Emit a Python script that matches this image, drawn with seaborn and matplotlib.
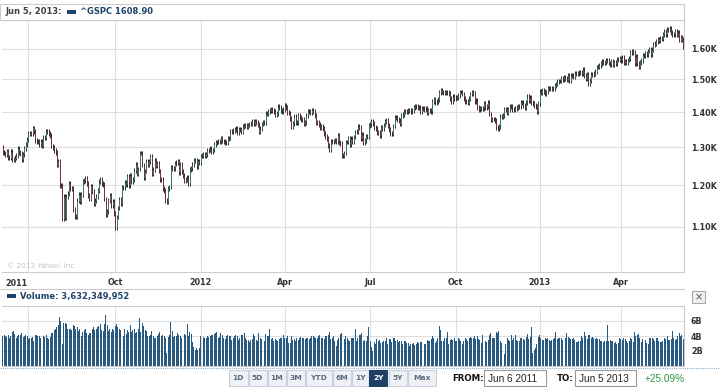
import numpy as np
import pandas as pd
import seaborn as sns
import matplotlib
matplotlib.use("Agg")
import matplotlib.pyplot as plt
from matplotlib.patches import Rectangle
from matplotlib.ticker import NullLocator

# ^GSPC daily closes, one list per month
close_jun11 = [1286, 1285, 1280, 1290, 1271, 1272, 1288, 1266, 1268, 1272, 1278, 1296, 1287, 1283, 1268, 1281, 1297, 1308, 1321]
close_jul11 = [1340, 1337, 1339, 1353, 1344, 1320, 1317, 1318, 1309, 1316, 1305, 1327, 1326, 1344, 1345, 1338, 1332, 1304, 1300, 1292]
close_aug11 = [1287, 1254, 1261, 1200, 1199, 1119, 1172, 1121, 1172, 1179, 1204, 1192, 1193, 1140, 1124, 1123, 1162, 1177, 1159, 1177, 1210, 1213, 1219]
close_sep11 = [1204, 1174, 1166, 1198, 1185, 1154, 1162, 1172, 1188, 1209, 1216, 1204, 1202, 1166, 1129, 1136, 1163, 1175, 1151, 1160, 1131]
close_oct11 = [1099, 1123, 1144, 1165, 1155, 1195, 1195, 1207, 1203, 1224, 1200, 1225, 1210, 1215, 1238, 1254, 1229, 1242, 1285, 1285, 1253]
close_nov11 = [1219, 1237, 1261, 1253, 1262, 1276, 1229, 1240, 1264, 1251, 1258, 1237, 1216, 1216, 1193, 1188, 1162, 1159, 1193, 1196, 1247]
close_dec11 = [1244, 1244, 1257, 1259, 1262, 1234, 1255, 1236, 1225, 1212, 1216, 1220, 1205, 1241, 1244, 1254, 1265, 1265, 1249, 1263, 1258]
close_jan12 = [1277, 1278, 1281, 1278, 1281, 1292, 1293, 1296, 1289, 1293, 1308, 1314, 1315, 1316, 1315, 1326, 1318, 1316, 1313, 1312]
close_feb12 = [1324, 1326, 1345, 1344, 1347, 1350, 1352, 1342, 1351, 1351, 1344, 1358, 1361, 1362, 1358, 1363, 1366, 1367, 1372, 1366]
close_mar12 = [1374, 1370, 1364, 1343, 1352, 1366, 1371, 1371, 1396, 1395, 1403, 1404, 1409, 1405, 1403, 1392, 1397, 1416, 1413, 1405, 1403, 1408]
close_apr12 = [1419, 1414, 1399, 1398, 1382, 1358, 1368, 1387, 1370, 1370, 1391, 1385, 1377, 1379, 1366, 1371, 1391, 1403, 1403, 1398]
close_may12 = [1406, 1402, 1391, 1369, 1370, 1364, 1355, 1358, 1353, 1338, 1330, 1325, 1305, 1295, 1316, 1316, 1318, 1320, 1317, 1333, 1313, 1310]
close_jun12 = [1278, 1278, 1285, 1315, 1315, 1325, 1309, 1324, 1315, 1329, 1343, 1345, 1358, 1355, 1325, 1335, 1314, 1320, 1331, 1329, 1362]
close_jul12 = [1365, 1374, 1368, 1355, 1352, 1341, 1342, 1334, 1357, 1353, 1363, 1372, 1376, 1362, 1350, 1338, 1337, 1360, 1386, 1385, 1379]
close_aug12 = [1375, 1366, 1391, 1394, 1401, 1403, 1403, 1406, 1404, 1403, 1405, 1415, 1418, 1418, 1413, 1413, 1402, 1411, 1410, 1409, 1410, 1399, 1406]
close_sep12 = [1404, 1403, 1432, 1438, 1429, 1433, 1437, 1460, 1466, 1461, 1459, 1461, 1460, 1460, 1456, 1441, 1433, 1447, 1441]
close_oct12 = [1444, 1445, 1451, 1461, 1461, 1455, 1441, 1432, 1433, 1428, 1440, 1455, 1460, 1457, 1433, 1434, 1413, 1409, 1412, 1411, 1412]
close_nov12 = [1427, 1414, 1417, 1428, 1395, 1378, 1380, 1380, 1375, 1355, 1353, 1359, 1387, 1387, 1391, 1409, 1407, 1399, 1409, 1416, 1416]
close_dec12 = [1409, 1407, 1410, 1413, 1418, 1418, 1428, 1428, 1419, 1413, 1430, 1446, 1436, 1443, 1430, 1427, 1419, 1418, 1402, 1426]
close_jan13 = [1462, 1459, 1466, 1462, 1457, 1461, 1472, 1472, 1471, 1472, 1472, 1481, 1486, 1493, 1495, 1495, 1503, 1500, 1507, 1502, 1498]
close_feb13 = [1513, 1495, 1512, 1512, 1509, 1518, 1518, 1520, 1521, 1522, 1520, 1531, 1512, 1502, 1516, 1488, 1496, 1515, 1515]
close_mar13 = [1518, 1525, 1540, 1541, 1545, 1552, 1557, 1553, 1555, 1563, 1561, 1553, 1549, 1558, 1546, 1556, 1552, 1564, 1563, 1569]
close_apr13 = [1562, 1570, 1553, 1559, 1553, 1563, 1568, 1588, 1593, 1588, 1552, 1574, 1552, 1541, 1555, 1562, 1578, 1578, 1585, 1582, 1593, 1598]
close_may13 = [1582, 1597, 1614, 1617, 1625, 1633, 1627, 1634, 1633, 1650, 1659, 1650, 1667, 1666, 1669, 1655, 1650, 1650, 1661, 1648, 1655, 1631]
close_jun13 = [1640, 1631, 1609]
first_open = 1300

# daily volume, tenths of a billion shares
vol_jun11 = [40, 41, 40, 39, 42, 38, 40, 45, 47, 43, 38, 40, 41, 42, 44, 39, 40, 41, 40]
vol_jul11 = [36, 37, 38, 39, 34, 42, 41, 40, 40, 38, 37, 40, 39, 41, 38, 36, 39, 44, 44, 48]
vol_aug11 = [50, 52, 55, 65, 60, 30, 58, 57, 56, 50, 49, 50, 48, 55, 54, 50, 52, 47, 50, 40, 46, 48, 50]
vol_sep11 = [44, 42, 44, 44, 50, 52, 48, 50, 52, 54, 56, 48, 47, 56, 68, 55, 47, 50, 46, 50, 48]
vol_oct11 = [54, 56, 52, 50, 48, 43, 40, 49, 43, 48, 45, 55, 46, 48, 50, 44, 46, 49, 64, 45, 58]
vol_nov11 = [54, 48, 47, 40, 40, 42, 47, 40, 38, 38, 40, 43, 46, 40, 42, 40, 38, 18, 39, 42, 59]
vol_dec11 = [47, 39, 40, 40, 44, 42, 40, 38, 44, 43, 42, 56, 40, 45, 43, 32, 25, 22, 24, 22, 24]
vol_jan12 = [40, 38, 39, 37, 38, 40, 39, 40, 42, 41, 43, 44, 45, 38, 39, 44, 42, 38, 36, 40]
vol_feb12 = [41, 40, 40, 35, 38, 40, 42, 40, 35, 38, 41, 41, 44, 37, 35, 35, 32, 35, 36, 43]
vol_mar12 = [40, 35, 34, 44, 38, 36, 34, 34, 43, 40, 40, 50, 36, 37, 34, 36, 35, 34, 36, 38, 38, 42]
vol_apr12 = [37, 37, 40, 31, 31, 40, 35, 36, 34, 38, 35, 37, 39, 37, 38, 36, 38, 37, 36, 37]
vol_may12 = [40, 40, 39, 38, 37, 40, 41, 38, 37, 36, 40, 40, 42, 45, 36, 37, 40, 34, 27, 35, 37, 43]
vol_jun12 = [44, 40, 36, 40, 38, 35, 34, 38, 38, 38, 50, 34, 37, 42, 42, 44, 34, 35, 34, 40, 52]
vol_jul12 = [34, 26, 20, 32, 30, 36, 34, 35, 31, 32, 34, 34, 37, 30, 36, 36, 32, 38, 38, 33, 35]
vol_aug12 = [32, 33, 34, 30, 33, 33, 31, 31, 27, 30, 30, 31, 28, 30, 32, 31, 32, 32, 27, 29, 30, 35, 33]
vol_sep12 = [34, 36, 40, 38, 31, 34, 38, 53, 48, 33, 34, 38, 38, 45, 30, 35, 36, 35, 37]
vol_oct12 = [34, 33, 37, 36, 33, 30, 34, 37, 36, 34, 38, 39, 37, 38, 40, 36, 40, 36, 35, 31, 41]
vol_nov12 = [37, 34, 32, 35, 41, 44, 38, 37, 37, 45, 44, 47, 34, 31, 28, 16, 29, 37, 35, 34, 42]
vol_dec12 = [35, 37, 42, 35, 34, 33, 38, 38, 36, 35, 39, 43, 36, 39, 52, 18, 21, 24, 30, 39]
vol_jan13 = [42, 38, 35, 35, 38, 36, 37, 35, 34, 35, 36, 38, 45, 36, 38, 37, 38, 35, 36, 38, 44]
vol_feb13 = [39, 38, 36, 36, 37, 35, 32, 32, 34, 33, 40, 38, 45, 40, 36, 42, 41, 38, 39]
vol_mar13 = [37, 36, 38, 36, 36, 33, 33, 32, 33, 33, 55, 34, 35, 34, 33, 31, 32, 30, 31, 37]
vol_apr13 = [36, 35, 38, 36, 34, 31, 34, 37, 36, 32, 46, 40, 42, 43, 37, 32, 36, 36, 35, 31, 30, 37]
vol_may13 = [38, 38, 36, 33, 37, 37, 34, 32, 32, 33, 37, 36, 40, 35, 35, 36, 47, 37, 35, 36, 40, 44]
vol_jun13 = [40, 41, 36]

close_months = [close_jun11, close_jul11, close_aug11, close_sep11, close_oct11, close_nov11,
                close_dec11, close_jan12, close_feb12, close_mar12, close_apr12, close_may12,
                close_jun12, close_jul12, close_aug12, close_sep12, close_oct12, close_nov12,
                close_dec12, close_jan13, close_feb13, close_mar13, close_apr13, close_may13,
                close_jun13]
vol_months = [vol_jun11, vol_jul11, vol_aug11, vol_sep11, vol_oct11, vol_nov11,
              vol_dec11, vol_jan12, vol_feb12, vol_mar12, vol_apr12, vol_may12,
              vol_jun12, vol_jul12, vol_aug12, vol_sep12, vol_oct12, vol_nov12,
              vol_dec12, vol_jan13, vol_feb13, vol_mar13, vol_apr13, vol_may13,
              vol_jun13]

# month index (in the lists above) where a grid line goes, and its label
grid_month = [1, 4, 7, 10, 13, 16, 19, 22]
grid_label = ["", "Oct", "2012", "Apr", "Jul", "Oct", "2013", "Apr"]

price_ticks = [1100, 1200, 1300, 1400, 1500, 1600, 1700]
price_labels = ["1.10K", "1.20K", "1.30K", "1.40K", "1.50K", "1.60K", ""]
vol_ticks = [2, 4, 6, 8]
vol_labels = ["2B", "4B", "6B", ""]

buttons = ["1D", "5D", "1M", "3M", "YTD", "6M", "1Y", "2Y", "5Y", "Max"]
button_x = [228, 248, 267, 286, 305, 332, 351, 369, 388, 407, 436]

closes = np.array(sum(close_months, []), dtype=float)
opens = np.r_[first_open, closes[:-1]]
vols = np.array(sum(vol_months, []), dtype=float) / 10
days = np.arange(len(closes))
month_start = np.cumsum([0] + [len(m) for m in close_months[:-1]])

sns.set_style("white")
plt.rcParams["font.family"] = ["DejaVu Sans"]

W, H = 720, 387
fig = plt.figure(figsize=(W / 100, H / 100), dpi=100)


def fx(x):
    return x / W


def fy(y):
    return 1 - y / H


def box(x0, y0, x1, y1, fc="none", ec="#cfd6dd", lw=0.8, **kw):
    fig.patches.append(Rectangle((fx(x0), fy(y1)), fx(x1) - fx(x0), fy(y0) - fy(y1),
                                 transform=fig.transFigure, facecolor=fc, edgecolor=ec,
                                 linewidth=lw, **kw))


grid_c = "#dedede"
frame_c = "#cccccc"

# ---- price panel
ax = fig.add_axes([fx(2), fy(272), fx(684) - fx(2), fy(20) - fy(272)])
ax.set_yscale("log")
up = closes >= opens
lo = np.minimum(opens, closes)
hi = np.maximum(opens, closes)
ax.vlines(days, lo * 0.995, hi * 1.005, color="#1e1e1e", lw=0.65)
ax.vlines(days[up], opens[up], closes[up], color="#3d8a66", lw=0.6)
ax.vlines(days[~up], opens[~up], closes[~up], color="#8a2c44", lw=0.6)
ax.set_xlim(-0.5, len(days) - 0.5)
ax.set_ylim(1000, 1700)
ax.yaxis.set_minor_locator(NullLocator())
ax.set_yticks(price_ticks)
ax.set_yticklabels(price_labels)
ax.yaxis.tick_right()
ax.set_xticks(month_start[grid_month])
ax.set_xticklabels(grid_label)
ax.tick_params(length=0, labelsize=5.8, labelcolor="#333333")
ax.tick_params(axis="y", pad=5)
ax.tick_params(axis="x", pad=4)
for lab in ax.get_xticklabels() + ax.get_yticklabels():
    lab.set_fontweight("bold")
ax.grid(True, color=grid_c, lw=0.8)
for s in ax.spines.values():
    s.set_color(frame_c)
    s.set_linewidth(0.8)
ax.spines["left"].set_visible(False)
ax.text(0.007, 0.015, "\u00a9 2013 Yahoo! Inc.", transform=ax.transAxes,
        fontsize=5.2, color="#c4c4c4")
fig.text(fx(5), fy(283), "2011", fontsize=5.8, fontweight="bold", color="#333333",
         va="center")

# header strip of the price panel
box(0, 4, 684, 20, ec=frame_c)
fig.text(fx(5), fy(12), "Jun 5, 2013:", fontsize=6, fontweight="bold",
         color="#404040", va="center")
box(67, 10, 76, 14, fc="#1f4469", ec="none")
fig.text(fx(80), fy(12), "^GSPC 1608.90", fontsize=6, fontweight="bold",
         color="#1f4469", va="center")

# ---- volume panel
fig.lines.append(plt.Line2D([0, fx(684)], [fy(289), fy(289)], transform=fig.transFigure,
                            color=frame_c, lw=0.8))
box(7, 294, 16, 298, fc="#1f4469", ec="none")
fig.text(fx(20), fy(296), "Volume: 3,632,349,952", fontsize=6, fontweight="bold",
         color="#1f4469", va="center")
box(692, 291, 705, 303, fc="#f0f0f0", ec="#a9a9a9")
fig.text(fx(698.5), fy(297), "\u00d7", fontsize=7, color="#555555", ha="center", va="center")

axv = fig.add_axes([fx(2), fy(366), fx(684) - fx(2), fy(306) - fy(366)])
vdf = pd.DataFrame({"day": days, "volume": vols})
sns.barplot(data=vdf, x="day", y="volume", native_scale=True, color="#295a82",
            saturation=1, width=0.72, errorbar=None, linewidth=0, ax=axv)
axv.set_xlim(-0.5, len(days) - 0.5)
axv.set_ylim(0, 8)
axv.set_xticks(month_start[grid_month])
axv.set_xticklabels([])
axv.set_yticks(vol_ticks)
axv.set_yticklabels(vol_labels)
axv.yaxis.tick_right()
axv.set_xlabel("")
axv.set_ylabel("")
axv.tick_params(length=0, labelsize=5.8, labelcolor="#333333")
axv.tick_params(axis="y", pad=5)
for lab in axv.get_yticklabels():
    lab.set_fontweight("bold")
axv.grid(True, color=grid_c, lw=0.8)
axv.set_axisbelow(True)
for s in axv.spines.values():
    s.set_color(frame_c)
    s.set_linewidth(0.8)
axv.spines["left"].set_visible(False)

# ---- range buttons and date boxes
fig.lines.append(plt.Line2D([0, 1], [fy(368), fy(368)], transform=fig.transFigure,
                            color="#8fb0cc", lw=0.8, ls=(0, (1, 1))))
for i, name in enumerate(buttons):
    x0, x1 = button_x[i] + 0.5, button_x[i + 1] - 0.5
    active = name == "2Y"
    box(x0, 370, x1, 386, fc="#1f3f66" if active else "#eef1f5",
        ec="#1f3f66" if active else "#c9d1da")
    fig.text(fx((x0 + x1) / 2), fy(378.5), name, fontsize=5.4, fontweight="bold",
             color="white" if active else "#5d6d7e", ha="center", va="center")

fig.text(fx(452), fy(378.5), "FROM:", fontsize=6.2, fontweight="bold", color="#111111",
         va="center")
box(484, 370, 546, 386, fc="white", ec="#9a9a9a")
fig.text(fx(488), fy(378.5), "Jun 6 2011", fontsize=7.2, family="Liberation Sans",
         color="#222222", va="center")
fig.text(fx(557), fy(378.5), "TO:", fontsize=6.2, fontweight="bold", color="#111111",
         va="center")
box(575, 370, 636, 386, fc="white", ec="#9a9a9a")
fig.text(fx(579), fy(378.5), "Jun 5 2013", fontsize=7.2, family="Liberation Sans",
         color="#222222", va="center")
fig.text(fx(645), fy(378.5), "+25.09%", fontsize=7.2, family="Liberation Sans",
         color="#2e9a3c", va="center")

fig.savefig("out.png", dpi=100, facecolor="white")
